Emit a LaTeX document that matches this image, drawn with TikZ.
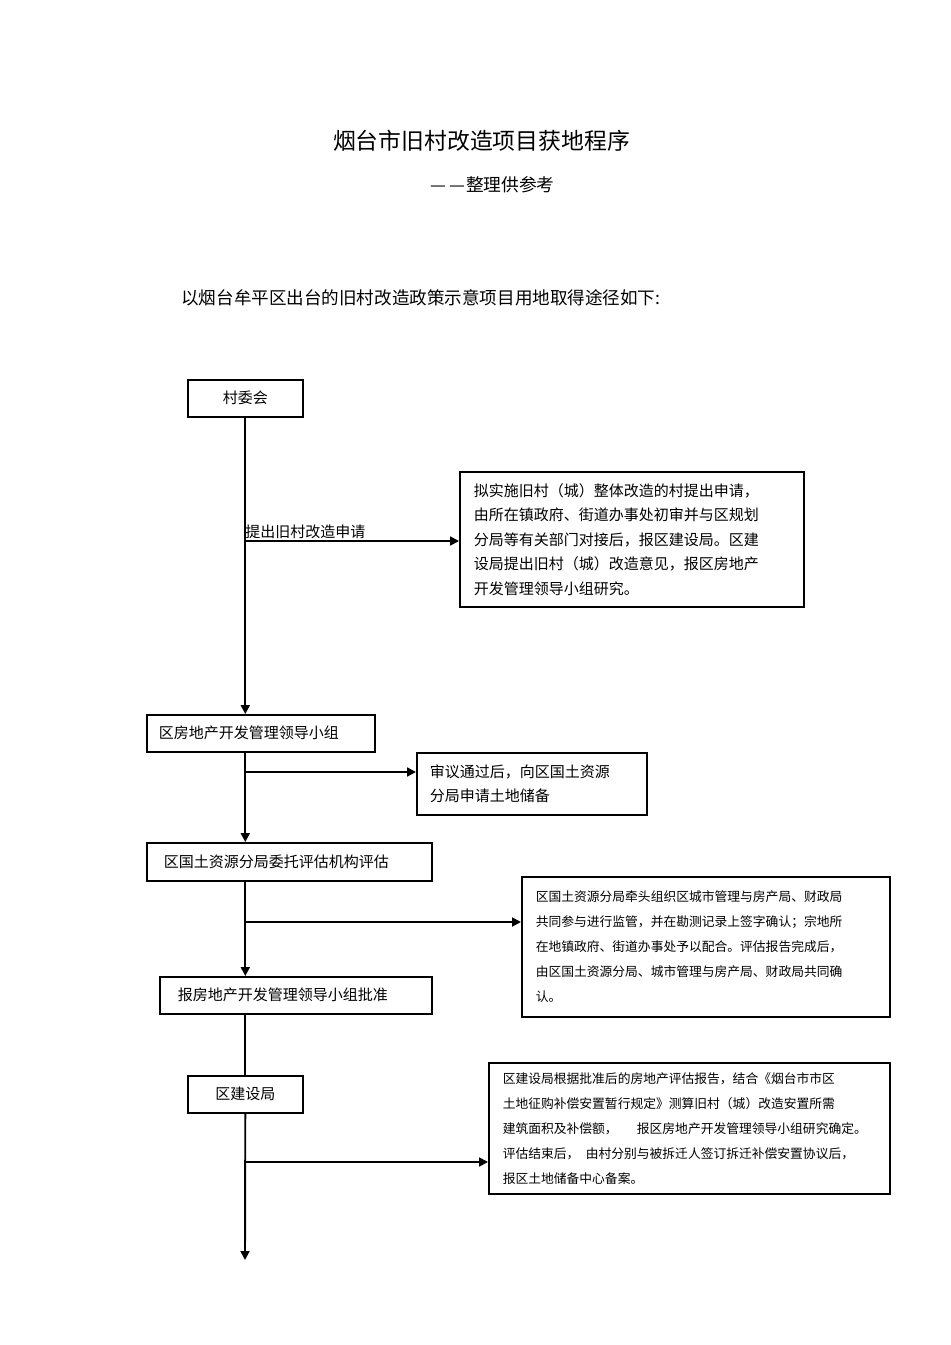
\documentclass[tikz,border=0pt]{standalone}
\usepackage{fontspec}
\usepackage{tikz}
\usetikzlibrary{arrows.meta}
\newfontfamily\cjk{Noto Sans CJK SC}
\newdimen\pxu \pxu=0.6263pt

\begin{document}
\begin{tikzpicture}[x=\pxu,y=-\pxu,font=\cjk,
  box/.style={draw,line width=1pt,anchor=north west,inner sep=0pt,minimum height=37\pxu,font=\cjk\fontsize{9.4}{15.35}\selectfont},
  lbox/.style={box,align=left},
  sbox/.style={lbox,font=\cjk\fontsize{8}{15.66}\selectfont},
  arr/.style={line width=1.2pt,-{Triangle[length=5.5pt,width=5.5pt]}},
  ln/.style={line width=1.2pt}]
  \useasboundingbox (0,0) rectangle (950,1345);
  \node[font=\cjk\fontsize{14.3}{16}\selectfont] (title) at (481.5,141) {烟台市旧村改造项目获地程序};
  \node[anchor=west,inner sep=0pt,font=\cjk\fontsize{11.1}{13}\selectfont] (sub) at (430,185) {—\hspace{3\pxu}—\hspace{1\pxu}整理供参考};
  \node[anchor=west,inner sep=0pt,font=\cjk\fontsize{11}{13}\selectfont] (intro) at (181,298) {以烟台牟平区出台的旧村改造政策示意项目用地取得途径如下:};

  \node[box,minimum width=115\pxu] (cwh) at (187,379) {村委会};
  \node[lbox,inner xsep=14\pxu,text width=316\pxu,minimum height=135\pxu] (sq1) at (459,471) {拟实施旧村（城）整体改造的村提出申请，\\由所在镇政府、街道办事处初审并与区规划\\分局等有关部门对接后，报区建设局。区建\\设局提出旧村（城）改造意见，报区房地产\\开发管理领导小组研究。};
  \node[lbox,inner xsep=12\pxu,text width=204\pxu] (fdc) at (146,714) {区房地产开发管理领导小组};
  \node[lbox,inner xsep=13\pxu,text width=204\pxu,minimum height=62\pxu,font=\cjk\fontsize{9.4}{15}\selectfont] (sy) at (416,752) {审议通过后，向区国土资源\\分局申请土地储备};
  \node[lbox,inner xsep=17\pxu,text width=251\pxu,minimum height=38\pxu] (gtj) at (146,842) {区国土资源分局委托评估机构评估};
  \node[sbox,inner xsep=14\pxu,text width=340\pxu,minimum height=140\pxu] (sq2) at (521,876) {区国土资源分局牵头组织区城市管理与房产局、财政局\\共同参与进行监管，并在勘测记录上签字确认；宗地所\\在地镇政府、街道办事处予以配合。评估报告完成后，\\由区国土资源分局、城市管理与房产局、财政局共同确\\认。};
  \node[lbox,inner xsep=18\pxu,text width=236\pxu] (pz) at (159,976) {报房地产开发管理领导小组批准};
  \node[box,minimum width=115\pxu] (jsj) at (187,1075) {区建设局};
  \node[sbox,inner xsep=14\pxu,text width=373\pxu,minimum height=131\pxu] (sq3) at (488,1062) {区建设局根据批准后的房地产评估报告，结合《烟台市市区\\土地征购补偿安置暂行规定》测算旧村（城）改造安置所需\\建筑面积及补偿额，\hspace{1.5em}报区房地产开发管理领导小组研究确定。\\评估结束后，\enspace 由村分别与被拆迁人签订拆迁补偿安置协议后，\\报区土地储备中心备案。};

  \coordinate (b1) at (245,541); \coordinate (b2) at (245,772); \coordinate (b3) at (245,922); \coordinate (b4) at (245,1162); \coordinate (end) at (245,1260);
  \draw[arr] (cwh.south) -- (cwh.south |- fdc.north);
  \draw[arr] (b1) -- (b1 -| sq1.west);
  \node[anchor=south west,inner xsep=0pt,inner ysep=2\pxu,font=\cjk\fontsize{9.4}{12}\selectfont] (lb1) at (b1) {提出旧村改造申请};
  \draw[arr] (cwh.south |- fdc.south) -- (cwh.south |- gtj.north);
  \draw[arr] (b2) -- (b2 -| sy.west);
  \draw[arr] (cwh.south |- gtj.south) -- (cwh.south |- pz.north);
  \draw[arr] (b3) -- (b3 -| sq2.west);
  \draw[ln] (cwh.south |- pz.south) -- (jsj.north);
  \draw[arr] (jsj.south) -- (end);
  \draw[arr] (b4) -- (b4 -| sq3.west);
\end{tikzpicture}
\end{document}
